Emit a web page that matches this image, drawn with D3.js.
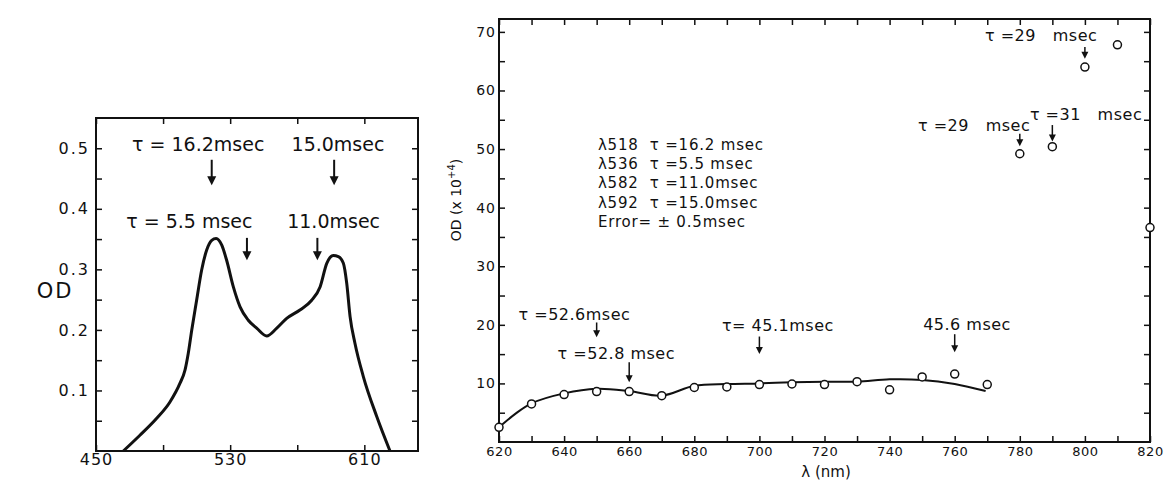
<!DOCTYPE html>
<html>
<head>
<meta charset="utf-8">
<script src="https://cdn.jsdelivr.net/npm/d3@7"></script>
<style>
  body { margin: 0; background: #fff; }
  svg { display: block; font-family: "DejaVu Sans", sans-serif; }
  text { fill: #111; }
</style>
</head>
<body>
<svg id="chart" width="1172" height="480"></svg>
<script>
// ---- left panel: absorption spectrum ----
var specNm = [466.3, 476.2, 486.2, 494.1, 500.1, 503.1, 505.0, 507.1, 510.0, 513.0, 516.0, 519.0, 521.6, 525.0, 527.9, 531.9, 535.9, 540.8, 545.8, 551.8, 557.8, 563.7, 571.6, 578.6, 583.6, 587.6, 591.5, 594.5, 597.5, 599.5, 601.5, 604.4, 609.4, 617.4, 625.3];
var specOD = [0, 0.026, 0.054, 0.081, 0.112, 0.134, 0.161, 0.2, 0.249, 0.299, 0.332, 0.348, 0.351, 0.34, 0.315, 0.271, 0.238, 0.216, 0.203, 0.19, 0.203, 0.219, 0.233, 0.249, 0.271, 0.31, 0.323, 0.321, 0.31, 0.277, 0.222, 0.178, 0.123, 0.057, 0];

var leftXTicks = [450, 490, 530, 570, 610];
var leftXLabels = [450, 530, 610];
var leftYTicks = [0.05, 0.1, 0.15, 0.2, 0.25, 0.3, 0.35, 0.4, 0.45, 0.5];
var leftYLabels = [0.1, 0.2, 0.3, 0.4, 0.5];

var leftNoteText = ["\u03c4 = 16.2msec", "15.0msec", "\u03c4 = 5.5 msec", "11.0msec"];
var leftNoteNm = [471.5, 566.6, 468, 564];
var leftNoteOD = [0.495, 0.495, 0.368, 0.368];
var leftArrowNm = [519, 592, 540, 582];
var leftArrowFrom = [0.481, 0.481, 0.352, 0.352];
var leftArrowTo = [0.439, 0.439, 0.315, 0.315];

// ---- right panel: OD x 10^4 in the red / far red ----
var pointNm = [620, 630, 640, 650, 660, 670, 680, 690, 700, 710, 720, 730, 740, 750, 760, 770, 780, 790, 800, 810, 820];
var pointOD = [2.5, 6.5, 8.1, 8.6, 8.6, 7.9, 9.3, 9.4, 9.8, 9.9, 9.8, 10.3, 8.9, 11.1, 11.6, 9.8, 49.2, 50.4, 64.0, 67.8, 36.6];

var fitNm = [620, 625, 630, 640, 650, 660, 670, 680, 690, 700, 710, 720, 730, 740, 750, 760, 769.5];
var fitOD = [2.5, 4.8, 6.6, 8.3, 9.1, 8.7, 7.9, 9.6, 9.9, 10.0, 10.2, 10.3, 10.3, 10.7, 10.6, 9.9, 8.7];

var rightXTicks = [620, 630, 640, 650, 660, 670, 680, 690, 700, 710, 720, 730, 740, 750, 760, 770, 780, 790, 800, 810, 820];
var rightXLabels = [620, 640, 660, 680, 700, 720, 740, 760, 780, 800, 820];
var rightYTicks = [5, 10, 15, 20, 25, 30, 35, 40, 45, 50, 55, 60, 65, 70];
var rightYLabels = [10, 20, 30, 40, 50, 60, 70];

var rightNoteText = ["\u03c4 =52.6msec", "\u03c4 =52.8 msec", "\u03c4= 45.1msec", "45.6 msec", "\u03c4 =29   msec", "\u03c4 =29   msec", "\u03c4 =31   msec"];
var rightNoteNm = [626, 638, 688.5, 750.3, 769.3, 748.7, 783.1];
var rightNoteOD = [20.9, 14.1, 19.0, 19.2, 68.4, 53.0, 55.0];
var rightArrowNm = [650, 660, 700, 760, 800, 780, 790];
var rightArrowFrom = [20.4, 13.6, 18.0, 18.4, 67.4, 52.6, 54.1];
var rightArrowTo = [17.9, 10.2, 15.0, 15.3, 65.4, 50.5, 51.3];

var legendLines = ["\u03bb518  \u03c4 =16.2 msec", "\u03bb536  \u03c4 =5.5 msec", "\u03bb582  \u03c4 =11.0msec", "\u03bb592  \u03c4 =15.0msec", "Error= \u00b1 0.5msec"];
var legendNm = 650.4, legendOD = 49.9;

var svg = d3.select("#chart");

// draws a vertical arrow pointing down from y0 to y1 at x (pixels)
function arrow(g, x, y0, y1, head, w) {
  g.append("line")
    .attr("x1", x).attr("x2", x)
    .attr("y1", y0).attr("y2", y1 - head + 1)
    .attr("stroke", "#111").attr("stroke-width", w);
  g.append("path")
    .attr("d", "M" + (x - head / 2) + "," + (y1 - head) + "L" + (x + head / 2) + "," + (y1 - head) + "L" + x + "," + y1 + "Z")
    .attr("fill", "#111");
}

function styleTicks(g, size, spacing) {
  g.select(".domain").remove();
  g.selectAll(".tick line").attr("stroke", "#111").attr("stroke-width", 1.5);
  g.selectAll(".tick text")
    .attr("fill", "#111")
    .style("font-size", size + "px")
    .style("letter-spacing", spacing + "px")
    .style("font-family", '"DejaVu Sans", sans-serif');
}

// ================= left panel =================
var L = { left: 96, right: 418, top: 118, bottom: 451 };
var xL = d3.scaleLinear().domain([450, 642]).range([L.left, L.right]);
var yL = d3.scaleLinear().domain([0, 0.55]).range([L.bottom, L.top]);
var gL = svg.append("g");

gL.append("g")
  .attr("transform", "translate(0," + L.bottom + ")")
  .call(d3.axisBottom(xL).tickValues(leftXTicks).tickSize(-6).tickSizeOuter(0).tickPadding(3)
    .tickFormat(function(d) { return leftXLabels.indexOf(d) >= 0 ? d : ""; }))
  .call(styleTicks, 16, 1);
gL.append("g")
  .attr("transform", "translate(0," + L.top + ")")
  .call(d3.axisTop(xL).tickValues(leftXTicks).tickSize(-6).tickSizeOuter(0).tickFormat(""))
  .call(styleTicks, 16, 0);
gL.append("g")
  .attr("transform", "translate(" + L.left + ",0)")
  .call(d3.axisLeft(yL).tickValues(leftYTicks).tickSize(-6).tickSizeOuter(0).tickPadding(6)
    .tickFormat(function(d) { return leftYLabels.indexOf(d) >= 0 ? d3.format(".1f")(d) : ""; }))
  .call(styleTicks, 16, 2);
gL.append("g")
  .attr("transform", "translate(" + L.right + ",0)")
  .call(d3.axisRight(yL).tickValues(leftYTicks).tickSize(-6).tickSizeOuter(0).tickFormat(""))
  .call(styleTicks, 16, 0);

gL.append("rect")
  .attr("x", L.left).attr("y", L.top)
  .attr("width", L.right - L.left).attr("height", L.bottom - L.top)
  .attr("fill", "none").attr("stroke", "#111").attr("stroke-width", 2);

var specLine = d3.line()
  .x(function(d, i) { return xL(specNm[i]); })
  .y(function(d, i) { return yL(specOD[i]); })
  .curve(d3.curveMonotoneX);
gL.append("path")
  .datum(specNm)
  .attr("d", specLine)
  .attr("fill", "none").attr("stroke", "#111").attr("stroke-width", 3)
  .attr("stroke-linejoin", "round");

gL.selectAll(".note")
  .data(leftNoteText)
  .enter().append("text")
  .attr("x", function(d, i) { return xL(leftNoteNm[i]); })
  .attr("y", function(d, i) { return yL(leftNoteOD[i]); })
  .style("font-size", "19px")
  .style("white-space", "pre")
  .text(function(d) { return d; });

leftArrowNm.forEach(function(nm, i) {
  arrow(gL, xL(nm), yL(leftArrowFrom[i]), yL(leftArrowTo[i]), 9, 2);
});

gL.append("text")
  .attr("x", 55).attr("y", 298)
  .attr("text-anchor", "middle")
  .style("font-size", "21px")
  .style("letter-spacing", "2px")
  .text("OD");

// ================= right panel =================
var R = { left: 499, right: 1150, top: 19, bottom: 442 };
var xR = d3.scaleLinear().domain([620, 820]).range([R.left, R.right]);
var yR = d3.scaleLinear().domain([0, 72.2]).range([R.bottom, R.top]);
var gR = svg.append("g");

gR.append("g")
  .attr("transform", "translate(0," + R.bottom + ")")
  .call(d3.axisBottom(xR).tickValues(rightXTicks).tickSize(-6).tickSizeOuter(0).tickPadding(5)
    .tickFormat(function(d) { return rightXLabels.indexOf(d) >= 0 ? d : ""; }))
  .call(styleTicks, 13, 0.5);
gR.append("g")
  .attr("transform", "translate(0," + R.top + ")")
  .call(d3.axisTop(xR).tickValues(rightXTicks).tickSize(-6).tickSizeOuter(0).tickFormat(""))
  .call(styleTicks, 13, 0);
gR.append("g")
  .attr("transform", "translate(" + R.left + ",0)")
  .call(d3.axisLeft(yR).tickValues(rightYTicks).tickSize(-6).tickSizeOuter(0).tickPadding(3)
    .tickFormat(function(d) { return rightYLabels.indexOf(d) >= 0 ? d : ""; }))
  .call(styleTicks, 14, 1);
gR.append("g")
  .attr("transform", "translate(" + R.right + ",0)")
  .call(d3.axisRight(yR).tickValues(rightYTicks).tickSize(-6).tickSizeOuter(0).tickFormat(""))
  .call(styleTicks, 13, 0);

gR.append("rect")
  .attr("x", R.left).attr("y", R.top)
  .attr("width", R.right - R.left).attr("height", R.bottom - R.top)
  .attr("fill", "none").attr("stroke", "#111").attr("stroke-width", 2);

var fitLine = d3.line()
  .x(function(d, i) { return xR(fitNm[i]); })
  .y(function(d, i) { return yR(fitOD[i]); })
  .curve(d3.curveCatmullRom);
gR.append("path")
  .datum(fitNm)
  .attr("d", fitLine)
  .attr("fill", "none").attr("stroke", "#111").attr("stroke-width", 2);

gR.selectAll(".dot")
  .data(pointNm)
  .enter().append("circle")
  .attr("class", "dot")
  .attr("cx", function(d) { return xR(d); })
  .attr("cy", function(d, i) { return yR(pointOD[i]); })
  .attr("r", 4)
  .attr("fill", "#fff").attr("stroke", "#111").attr("stroke-width", 1.5);

gR.selectAll(".note")
  .data(rightNoteText)
  .enter().append("text")
  .attr("x", function(d, i) { return xR(rightNoteNm[i]); })
  .attr("y", function(d, i) { return yR(rightNoteOD[i]); })
  .style("font-size", "16px")
  .style("letter-spacing", "0.5px")
  .style("white-space", "pre")
  .text(function(d) { return d; });

rightArrowNm.forEach(function(nm, i) {
  arrow(gR, xR(nm), yR(rightArrowFrom[i]), yR(rightArrowTo[i]), 7, 1.5);
});

gR.selectAll(".legend")
  .data(legendLines)
  .enter().append("text")
  .attr("x", xR(legendNm))
  .attr("y", function(d, i) { return yR(legendOD) + i * 19.3; })
  .style("font-size", "15px")
  .style("letter-spacing", "0.8px")
  .style("white-space", "pre")
  .text(function(d) { return d; });

// axis titles
var yTitle = gR.append("text")
  .attr("transform", "translate(461,200) rotate(-90)")
  .attr("text-anchor", "middle")
  .style("font-size", "14px");
yTitle.append("tspan").text("OD (x 10");
yTitle.append("tspan").attr("dy", -6).style("font-size", "10px").text("+4");
yTitle.append("tspan").attr("dy", 6).text(")");

gR.append("text")
  .attr("x", 826).attr("y", 477)
  .attr("text-anchor", "middle")
  .style("font-size", "15px")
  .style("white-space", "pre")
  .text("\u03bb (nm)");
</script>
</body>
</html>
